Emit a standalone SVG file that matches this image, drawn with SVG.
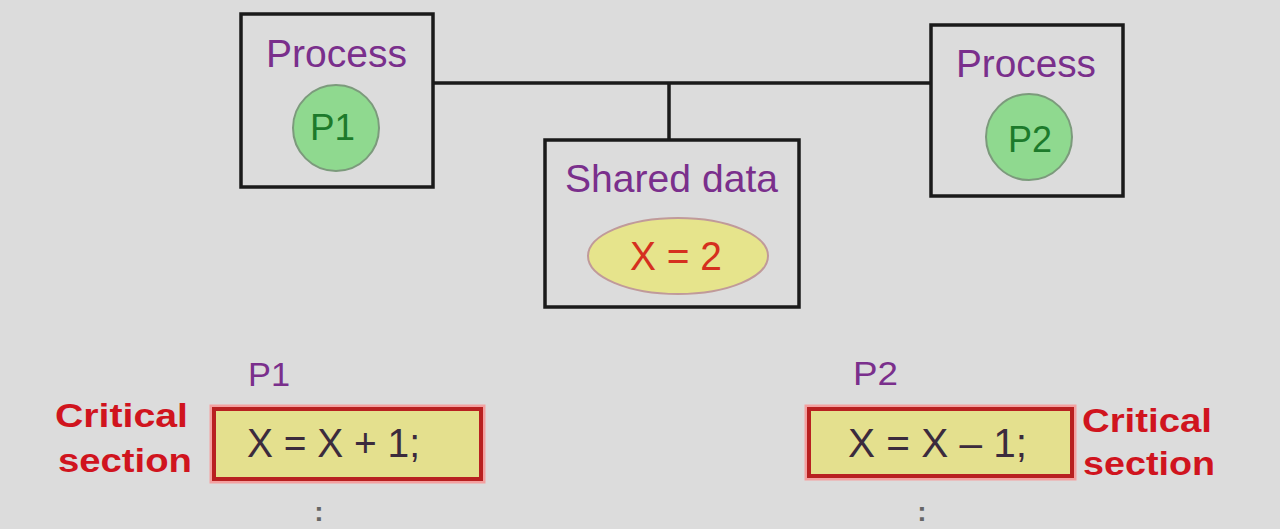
<svg xmlns="http://www.w3.org/2000/svg" width="1280" height="529" viewBox="0 0 1280 529">
<style>
.box{fill:#dcdcdc;stroke:#1a1a1a;stroke-width:3.5}
.title{font-family:"Liberation Sans",Arial,sans-serif;font-size:39px;fill:#7a2f8c}
.pc{fill:#8fd98f;stroke:#7c9a7c;stroke-width:2}
.pt{font-family:"Liberation Sans",Arial,sans-serif;font-size:37px;fill:#1d7a2b}
.cs{fill:#e4e08e;stroke:#b82020;stroke-width:4}
.csglow{fill:none;stroke:#f3a0a0;stroke-width:9}
.code{font-family:"Liberation Sans",Arial,sans-serif;font-size:40px;fill:#3b2b3d}
.crit{font-family:"Liberation Sans",Arial,sans-serif;font-size:34px;font-weight:bold;fill:#d0141e}
.lbl{font-family:"Liberation Sans",Arial,sans-serif;font-size:34px;fill:#7a2f8c}
.dots{font-family:"Liberation Sans",Arial,sans-serif;font-size:28px;font-weight:bold;fill:#666;text-anchor:middle}
.conn{stroke:#1a1a1a;stroke-width:3.5;fill:none}
</style>
<rect width="1280" height="529" fill="#dcdcdc"/>
<g id="connectors">
<path class="conn" d="M433 83 H931"/>
<path class="conn" d="M669 83 V140"/>
</g>
<g id="process1">
<rect class="box" x="241" y="14" width="192" height="173"/>
<text class="title" x="266" y="67" textLength="141" lengthAdjust="spacingAndGlyphs">Process</text>
<circle class="pc" cx="336" cy="128" r="43"/>
<text class="pt" x="310" y="140" textLength="45" lengthAdjust="spacingAndGlyphs">P1</text>
</g>
<g id="process2">
<rect class="box" x="931" y="25" width="192" height="171"/>
<text class="title" x="956" y="77" textLength="140" lengthAdjust="spacingAndGlyphs">Process</text>
<circle class="pc" cx="1029" cy="137" r="43"/>
<text class="pt" x="1008" y="152" textLength="44" lengthAdjust="spacingAndGlyphs">P2</text>
</g>
<g id="shared">
<rect class="box" x="545" y="140" width="254" height="167"/>
<text class="title" x="565" y="192" textLength="213" lengthAdjust="spacingAndGlyphs">Shared data</text>
<ellipse cx="678" cy="256" rx="90" ry="38" fill="#e6e48c" stroke="#c09a9a" stroke-width="2"/>
<text x="630" y="270" textLength="92" lengthAdjust="spacingAndGlyphs" font-family="Liberation Sans, Arial, sans-serif" font-size="41" fill="#d5301f">X = 2</text>
</g>
<g id="p1code">
<text class="lbl" x="248" y="386" textLength="42" lengthAdjust="spacingAndGlyphs">P1</text>
<text class="crit" x="55" y="427" textLength="133" lengthAdjust="spacingAndGlyphs">Critical</text>
<text class="crit" x="58" y="472" textLength="134" lengthAdjust="spacingAndGlyphs">section</text>
<rect class="csglow" x="214" y="409" width="267" height="70"/>
<rect class="cs" x="214" y="409" width="267" height="70"/>
<text class="code" x="247" y="457" textLength="173" lengthAdjust="spacingAndGlyphs">X = X + 1;</text>
<text class="dots" x="319" y="521">:</text>
</g>
<g id="p2code">
<text class="lbl" x="853" y="385" textLength="45" lengthAdjust="spacingAndGlyphs">P2</text>
<rect class="csglow" x="809" y="409" width="263" height="67"/>
<rect class="cs" x="809" y="409" width="263" height="67"/>
<text class="code" x="848" y="457" textLength="179" lengthAdjust="spacingAndGlyphs">X = X – 1;</text>
<text class="crit" x="1082" y="432" textLength="130" lengthAdjust="spacingAndGlyphs">Critical</text>
<text class="crit" x="1083" y="475" textLength="132" lengthAdjust="spacingAndGlyphs">section</text>
<text class="dots" x="922" y="521">:</text>
</g>
</svg>
